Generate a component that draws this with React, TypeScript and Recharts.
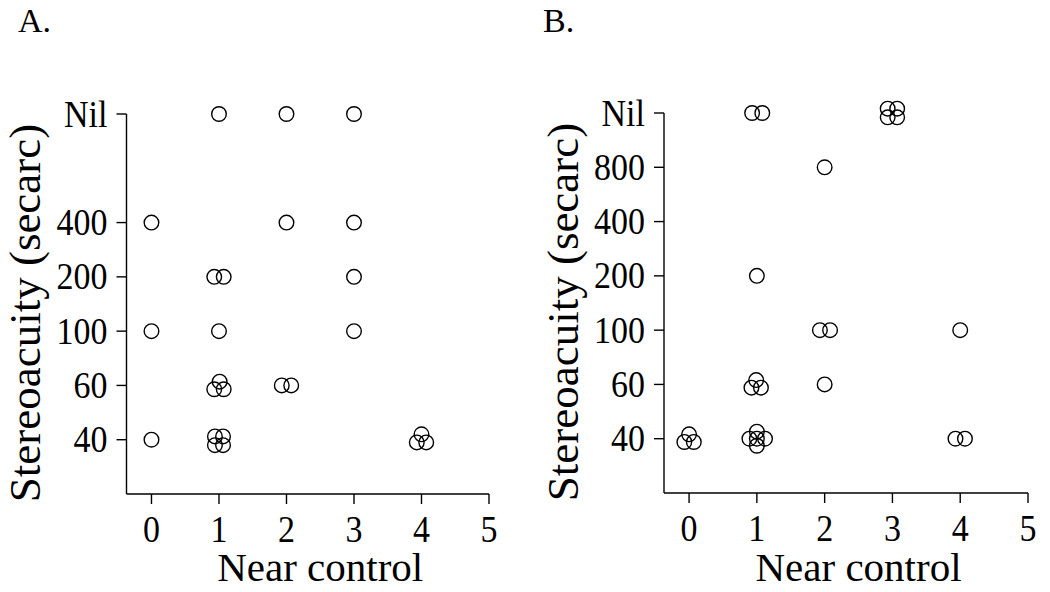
import React from 'react';
import { ScatterChart, Scatter, XAxis, YAxis, Label } from 'recharts';

// Stereoacuity levels, indexed 0..7 on the y scale
const stereoLevels = ['', '40', '60', '100', '200', '400', '800', 'Nil'];
const nearTicks = [0, 1, 2, 3, 4, 5];
const stereoTicksA = [1, 2, 3, 4, 5, 7];
const stereoTicksB = [1, 2, 3, 4, 5, 6, 7];

// Panel A (with visual jitter of overlapping points)
const nearA = [1, 2, 3, 0, 2, 3, 0.93, 1.07, 3, 0, 1, 3, 1.01, 0.93, 1.07, 1.93, 2.07, 0, 0.94, 1.06, 0.94, 1.06, 4, 3.93, 4.07];
const stereoA = [7, 7, 7, 5, 5, 5, 4, 4, 4, 3, 3, 3, 2.07, 1.93, 1.93, 2, 2, 1, 1.06, 1.06, 0.9, 0.9, 1.1, 0.95, 0.95];

// Panel B
const nearB = [0.93, 1.08, 2.93, 3.07, 2.93, 3.07, 2, 1, 1.93, 2.08, 4, 0.99, 0.92, 1.06, 2, 0, -0.07, 0.07, 1, 0.89, 1.12, 1, 1, 3.93, 4.07];
const stereoB = [7, 7, 7.08, 7.08, 6.92, 6.92, 6, 4, 3, 3, 3, 2.08, 1.94, 1.94, 2, 1.08, 0.94, 0.94, 1.13, 1, 1, 0.87, 1, 1, 1];

const xTitle = 'Near control';
const yTitle = 'Stereoacuity (secarc)';
const panelLabels = ['A.', 'B.'];

const toPoints = (xs: number[], ys: number[]) => xs.map((x, i) => ({ x, y: ys[i] }));

const FONT = '"Liberation Serif", "DejaVu Serif", serif';
const X_DOMAIN: [number, number] = [-0.37, 5];
const TICK_FS = 34;
const STRETCH = 1.12;

const ringShape = (props: any) => (
  <circle cx={props.cx} cy={props.cy} r={7.3} fill="none" stroke="#000" strokeWidth={1.4} />
);

const XTick = (props: any) => {
  const { x, y, payload } = props;
  const by = y + 23;
  return (
    <text
      transform={`translate(${x},${by}) scale(1,${STRETCH})`}
      textAnchor="middle"
      fontSize={TICK_FS}
      fontFamily={FONT}
      fill="#000"
    >
      {String(payload.value)}
    </text>
  );
};

const YTick = (props: any) => {
  const { x, y, payload } = props;
  const by = y + (TICK_FS * 0.66 * STRETCH) / 2;
  return (
    <text
      transform={`translate(${x},${by}) scale(1,${STRETCH})`}
      textAnchor="end"
      fontSize={TICK_FS}
      fontFamily={FONT}
      fill="#000"
    >
      {stereoLevels[payload.value]}
    </text>
  );
};

type PanelProps = {
  data: { x: number; y: number }[];
  yTicks: number[];
  margin: { top: number; right: number; bottom: number; left: number };
  yAxisWidth: number;
  xAxisHeight: number;
  yTitleX: number;
  yTitleY: number;
};

const Panel = ({ data, yTicks, margin, yAxisWidth, xAxisHeight, yTitleX, yTitleY }: PanelProps) => (
  <ScatterChart width={525} height={592} margin={margin}>
    <XAxis
      type="number"
      dataKey="x"
      domain={X_DOMAIN}
      ticks={nearTicks}
      allowDataOverflow
      height={xAxisHeight}
      tickSize={10}
      tickMargin={15}
      axisLine={{ stroke: '#000', strokeWidth: 1.4 }}
      tickLine={{ stroke: '#000', strokeWidth: 1.4 }}
      tick={<XTick />}
    >
      <Label
        content={({ viewBox }: any) => {
          const vb = viewBox || { x: 0, y: 0, width: 0, height: 0 };
          const cx = vb.x + (vb.width * (2.5 - X_DOMAIN[0])) / (X_DOMAIN[1] - X_DOMAIN[0]);
          return (
            <text x={cx} y={581} textAnchor="middle" fontSize={41} fontFamily={FONT} fill="#000">
              {xTitle}
            </text>
          );
        }}
      />
    </XAxis>
    <YAxis
      type="number"
      dataKey="y"
      domain={[0, 7]}
      ticks={yTicks}
      allowDataOverflow
      width={yAxisWidth}
      tickSize={10}
      tickMargin={9}
      axisLine={{ stroke: '#000', strokeWidth: 1.4 }}
      tickLine={{ stroke: '#000', strokeWidth: 1.4 }}
      tick={<YTick />}
    >
      <Label
        content={() => (
          <text
            x={yTitleX}
            y={yTitleY}
            transform={`rotate(-90 ${yTitleX} ${yTitleY})`}
            textAnchor="middle"
            fontSize={45}
            fontFamily={FONT}
            fill="#000"
          >
            {yTitle}
          </text>
        )}
      />
    </YAxis>
    <Scatter data={data} shape={ringShape} isAnimationActive={false} />
  </ScatterChart>
);

export default function App() {
  return (
    <div style={{ position: 'absolute', left: 0, top: 0, width: 1050, height: 592, background: '#fff' }}>
      <style>{`.recharts-wrapper [clip-path], .recharts-scatter, .recharts-layer { clip-path: none !important; }`}</style>
      <div style={{ display: 'flex' }}>
        <Panel
          data={toPoints(nearA, stereoA)}
          yTicks={stereoTicksA}
          margin={{ top: 114, right: 36, bottom: 0, left: 0 }}
          yAxisWidth={126.5}
          xAxisHeight={98}
          yTitleX={40}
          yTitleY={313}
        />
        <Panel
          data={toPoints(nearB, stereoB)}
          yTicks={stereoTicksB}
          margin={{ top: 113, right: 22, bottom: 0, left: 0 }}
          yAxisWidth={139}
          xAxisHeight={99}
          yTitleX={52.5}
          yTitleY={312}
        />
      </div>
      <svg width={1050} height={60} style={{ position: 'absolute', left: 0, top: 0 }}>
        <text x={18} y={32} fontSize={34} fontFamily={FONT} fill="#000">{panelLabels[0]}</text>
        <text x={543} y={32} fontSize={34} fontFamily={FONT} fill="#000">{panelLabels[1]}</text>
      </svg>
    </div>
  );
}
